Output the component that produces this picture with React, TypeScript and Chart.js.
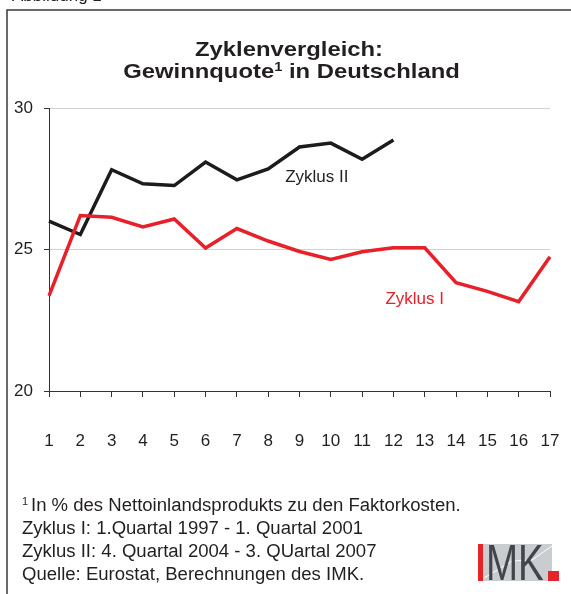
import React, { useEffect, useRef } from "react";
import { Chart, registerables } from "chart.js";

Chart.register(...registerables);

const categories = ["1", "2", "3", "4", "5", "6", "7", "8", "9", "10", "11", "12", "13", "14", "15", "16", "17"];
const zyklusI = [23.36, 26.2, 26.14, 25.8, 26.08, 25.05, 25.74, 25.3, 24.93, 24.65, 24.92, 25.06, 25.06, 23.83, 23.52, 23.16, 24.74];
const zyklusII = [26.0, 25.53, 27.82, 27.32, 27.26, 28.09, 27.46, 27.85, 28.62, 28.76, 28.19, 28.87];
const yMin = 20;
const yMax = 30;
const yStep = 5;

const titleLine1 = "Zyklenvergleich:";
const titleLine2a = "Gewinnquote";
const titleLine2b = " in Deutschland";
const footLines = [
  "In % des Nettoinlandsprodukts zu den Faktorkosten.",
  "Zyklus I: 1.Quartal 1997 - 1. Quartal 2001",
  "Zyklus II: 4. Quartal 2004 - 3. QUartal 2007",
  "Quelle: Eurostat, Berechnungen des IMK.",
];

const FONT = '"Liberation Sans", Arial, sans-serif';
const RED = "#e8202a";
const BLACK = "#1c1c1c";
const TEXT = "#231f20";

type Run = { text: string; font: string; dy: number };

function drawRuns(ctx: CanvasRenderingContext2D, runs: Run[], x: number, baseline: number, sx: number, align: "left" | "center") {
  let total = 0;
  const widths = runs.map((r) => {
    ctx.font = r.font;
    const w = ctx.measureText(r.text).width;
    total += w;
    return w;
  });
  const start = align === "center" ? x - (total * sx) / 2 : x;
  ctx.save();
  ctx.translate(start, baseline);
  ctx.scale(sx, 1);
  let cx = 0;
  runs.forEach((r, i) => {
    ctx.font = r.font;
    ctx.fillText(r.text, cx, r.dy);
    cx += widths[i];
  });
  ctx.restore();
}

const decorPlugin = {
  id: "decor",
  afterDraw(chart: any) {
    const ctx: CanvasRenderingContext2D = chart.ctx;
    const xs = chart.scales.x;
    const ys = chart.scales.y;
    ctx.save();
    ctx.textAlign = "left";
    ctx.textBaseline = "alphabetic";

    // "Abbildung 1" (cut off at top)
    ctx.fillStyle = TEXT;
    ctx.font = `17px ${FONT}`;
    ctx.fillText("Abbildung 1", 12, 1);

    // frame
    ctx.strokeStyle = "#3a3a3a";
    ctx.lineWidth = 1.5;
    ctx.beginPath();
    ctx.moveTo(7, 600);
    ctx.lineTo(7, 10);
    ctx.lineTo(580, 10);
    ctx.stroke();

    // title
    ctx.fillStyle = TEXT;
    drawRuns(ctx, [{ text: titleLine1, font: `bold 21px ${FONT}`, dy: 0 }], 289, 56, 1.135, "center");
    drawRuns(
      ctx,
      [
        { text: titleLine2a, font: `bold 21px ${FONT}`, dy: 0 },
        { text: "1", font: `bold 13px ${FONT}`, dy: -7 },
        { text: titleLine2b, font: `bold 21px ${FONT}`, dy: 0 },
      ],
      291.5,
      78,
      1.135,
      "center"
    );

    // series labels
    ctx.font = `17px ${FONT}`;
    ctx.textBaseline = "middle";
    ctx.fillStyle = TEXT;
    const x8 = xs.getPixelForValue(7);
    ctx.fillText("Zyklus II", x8 + 17, ys.getPixelForValue(27.54));
    ctx.fillStyle = RED;
    const x12 = xs.getPixelForValue(11);
    ctx.fillText("Zyklus I", x12 - 8, ys.getPixelForValue(23.24));
    ctx.textBaseline = "alphabetic";

    // footnote
    ctx.fillStyle = TEXT;
    ctx.font = `11px ${FONT}`;
    ctx.fillText("1", 22, 505);
    const baselines = [511, 534, 557, 580];
    footLines.forEach((line, i) => {
      drawRuns(ctx, [{ text: line, font: `18px ${FONT}`, dy: 0 }], i === 0 ? 31 : 22, baselines[i], 1.03, "left");
    });

    // IMK logo
    ctx.fillStyle = "#c9cdd0";
    ctx.fillRect(483, 544, 69, 37);
    ctx.strokeStyle = "#ffffff";
    ctx.lineWidth = 1;
    ctx.beginPath();
    ctx.moveTo(484, 578);
    ctx.lineTo(512, 561);
    ctx.lineTo(532, 560);
    ctx.lineTo(552, 546);
    ctx.stroke();
    ctx.fillStyle = "#e52329";
    ctx.fillRect(478, 544, 5, 37);
    ctx.fillRect(548, 571, 11, 10);
    ctx.fillStyle = "#41464c";
    drawRuns(ctx, [{ text: "MK", font: `50px ${FONT}`, dy: 0 }], 486, 580, 0.77, "left");

    ctx.restore();
  },
};

export default function App() {
  const ref = useRef<HTMLCanvasElement | null>(null);
  useEffect(() => {
    if (!ref.current) return;
    const chart = new Chart(ref.current, {
      type: "line",
      data: {
        labels: categories,
        datasets: [
          {
            label: "Zyklus I",
            data: zyklusI,
            borderColor: RED,
            borderWidth: 3.5,
            pointRadius: 0,
            tension: 0,
            fill: false,
          },
          {
            label: "Zyklus II",
            data: zyklusII,
            borderColor: BLACK,
            borderWidth: 3.5,
            pointRadius: 0,
            tension: 0,
            fill: false,
          },
        ],
      },
      options: {
        responsive: false,
        animation: false,
        events: [],
        layout: { padding: { top: 108, right: 21, bottom: 0, left: 0 } },
        plugins: {
          legend: { display: false },
          title: { display: false },
          tooltip: { enabled: false },
        },
        scales: {
          x: {
            type: "category",
            offset: false,
            afterFit: (s: any) => {
              s.height = 203;
              s.paddingLeft = 0;
              s.paddingRight = 0;
            },
            grid: {
              drawOnChartArea: false,
              drawTicks: true,
              tickLength: 6,
              tickColor: "#333",
            },
            border: { display: true, color: "#333", width: 1 },
            ticks: {
              font: { family: FONT, size: 17 },
              color: TEXT,
              padding: 34,
              maxRotation: 0,
              autoSkip: false,
            },
          },
          y: {
            min: yMin,
            max: yMax,
            afterFit: (s: any) => {
              s.width = 49;
              s.paddingTop = 0;
              s.paddingBottom = 0;
            },
            grid: {
              color: (c: any) => (c.tick && c.tick.value === yMin ? "rgba(0,0,0,0)" : "#d2d2d2"),
              lineWidth: 1,
              drawTicks: true,
              tickLength: 5,
              tickColor: "#333",
            },
            border: { display: true, color: "#333", width: 1 },
            ticks: {
              stepSize: yStep,
              font: { family: FONT, size: 17 },
              color: TEXT,
              padding: 11,
            },
          },
        },
      },
      plugins: [decorPlugin],
    });
    return () => chart.destroy();
  }, []);
  return (
    <div style={{ position: "absolute", left: 0, top: 0, width: 571, height: 594, background: "#fff" }}>
      <canvas ref={ref} width={571} height={594} style={{ width: 571, height: 594, display: "block" }} />
    </div>
  );
}
